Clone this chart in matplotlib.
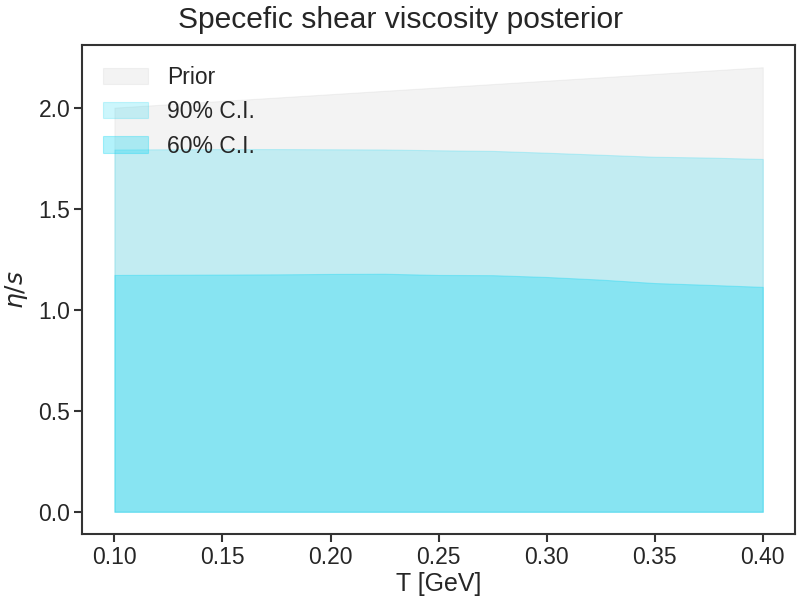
import numpy as np
import matplotlib
matplotlib.use('Agg')
import matplotlib.pyplot as plt
import seaborn as sns

# temperature grid [GeV]
T = [0.100, 0.125, 0.150, 0.175, 0.200, 0.225, 0.250,
     0.275, 0.300, 0.325, 0.350, 0.375, 0.400]

# prior band (linear upper edge)
prior_T = [0.1, 0.4]
prior_upper = [2.0, 2.2]

# posterior credible intervals (upper edges, lower edge at 0)
ci90_upper = [1.793, 1.794, 1.795, 1.795, 1.794, 1.793, 1.789,
              1.786, 1.777, 1.767, 1.757, 1.753, 1.746]
ci60_upper = [1.172, 1.173, 1.174, 1.175, 1.177, 1.178, 1.172,
              1.171, 1.162, 1.149, 1.132, 1.123, 1.113]

sns.set_theme(style='ticks', context='talk')
plt.rcParams['font.family'] = ['Arial', 'Liberation Sans', 'DejaVu Sans']

cyan = '#00d4f2'

fig, ax = plt.subplots(figsize=(8, 6), dpi=100)
ax.fill_between(prior_T, np.zeros(len(prior_T)), prior_upper,
                color='gray', alpha=0.09, lw=0.8, label='Prior')
ax.fill_between(T, np.zeros(len(T)), ci90_upper,
                color=cyan, alpha=0.2, lw=0.8, label='90% C.I.')
ax.fill_between(T, np.zeros(len(T)), ci60_upper,
                color=cyan, alpha=0.3, lw=0.8, label='60% C.I.')

ax.set_xlabel('T [GeV]', labelpad=2)
ax.set_ylabel(r'$\eta/s$', labelpad=6)
ax.set_xticks([0.10, 0.15, 0.20, 0.25, 0.30, 0.35, 0.40])
ax.set_yticks([0.0, 0.5, 1.0, 1.5, 2.0])
ax.tick_params(length=5.5, width=1.5, pad=3, color='#333333')
for sp in ax.spines.values():
    sp.set_color('#333333')
    sp.set_linewidth(1.5)
ax.legend(loc='upper left', frameon=False)
fig.suptitle('Specefic shear viscosity posterior', y=0.99)
fig.subplots_adjust(left=0.1025, right=0.994, bottom=0.11, top=0.925)
fig.savefig('out.png')
